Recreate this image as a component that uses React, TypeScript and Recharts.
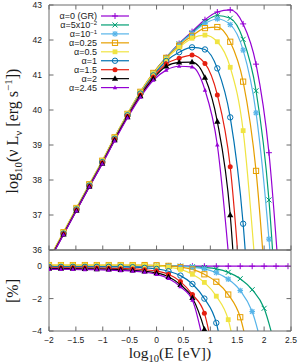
import React from 'react';
import { LineChart, Line, XAxis, YAxis, Legend } from 'recharts';

// ---------- data ----------
const topLogE = [-1.97, -1.73, -1.49, -1.25, -1.01, -0.78, -0.54, -0.3, -0.06, 0.18, 0.42, 0.66, 0.9, 1.13, 1.37, 1.61, 1.85, 2.09, 2.33];
const diffLogE = [-2.0, -1.778, -1.556, -1.333, -1.111, -0.889, -0.667, -0.444, -0.222, 0, 0.222, 0.444, 0.667, 0.889, 1.111, 1.333, 1.556, 1.778, 2.0, 2.222, 2.444];

const alphaBase = ['α=0 (GR)', 'α=5x10', 'α=10', 'α=0.25', 'α=0.5', 'α=1', 'α=1.5', 'α=2', 'α=2.45'];
const alphaSup = ['', '−2', '−1', '', '', '', '', '', ''];

const lumGR = [35.8, 36.48, 37.17, 37.85, 38.52, 39.2, 39.87, 40.5, 41.05, 41.5, 41.9, 42.24, 42.58, 42.8, 42.86, 42.46, 41.31, 38.78, 34.0];
const lumA005 = [35.81, 36.49, 37.18, 37.86, 38.53, 39.21, 39.88, 40.51, 41.05, 41.5, 41.89, 42.21, 42.52, 42.7, 42.62, 42.02, 40.55, 37.43, 31.5];
const lumA01 = [35.81, 36.49, 37.18, 37.86, 38.53, 39.21, 39.88, 40.51, 41.05, 41.49, 41.88, 42.19, 42.47, 42.6, 42.44, 41.71, 39.92, 36.31, 31.0];
const lumA025 = [35.83, 36.51, 37.2, 37.88, 38.55, 39.22, 39.89, 40.52, 41.06, 41.49, 41.84, 42.12, 42.34, 42.37, 41.95, 40.81, 38.26, 33.5, null];
const lumA05 = [35.83, 36.51, 37.2, 37.88, 38.55, 39.22, 39.89, 40.51, 41.04, 41.46, 41.79, 42.05, 42.14, 41.95, 41.22, 39.41, 35.2, null, null];
const lumA1 = [35.79, 36.47, 37.16, 37.84, 38.51, 39.18, 39.85, 40.47, 40.99, 41.4, 41.65, 41.79, 41.73, 41.19, 39.79, 36.75, 31.0, null, null];
const lumA15 = [35.78, 36.46, 37.14, 37.82, 38.49, 39.16, 39.82, 40.43, 40.94, 41.32, 41.48, 41.57, 41.33, 40.43, 38.38, 33.8, null, null, null];
const lumA2 = [35.77, 36.45, 37.13, 37.81, 38.47, 39.14, 39.8, 40.4, 40.9, 41.25, 41.36, 41.37, 40.93, 39.67, 37.0, 31.0, null, null, null];
const lumA245 = [35.76, 36.44, 37.12, 37.8, 38.46, 39.12, 39.78, 40.37, 40.85, 41.14, 41.25, 41.23, 40.57, 39.0, 35.3, null, null, null, null];

const diffGR = [0, 0, 0, 0, 0, 0, 0, 0, 0, 0, 0, 0, 0, 0, 0, 0, 0, 0, 0, 0, 0];
const diffA005 = [0.02, 0.02, 0.02, 0.02, 0.02, 0.02, 0.02, 0.02, 0.02, 0.02, 0.01, 0.0, -0.03, -0.08, -0.17, -0.38, -0.77, -1.45, -2.6, -5.2, null];
const diffA01 = [0.03, 0.03, 0.03, 0.03, 0.03, 0.03, 0.03, 0.03, 0.03, 0.03, 0.03, 0.0, -0.06, -0.17, -0.4, -0.8, -1.5, -2.8, -5.5, null, null];
const diffA025 = [0.07, 0.07, 0.07, 0.07, 0.07, 0.07, 0.07, 0.07, 0.07, 0.06, 0.02, -0.06, -0.2, -0.5, -0.96, -1.75, -3.15, -6.5, null, null, null];
const diffA05 = [0.07, 0.07, 0.07, 0.07, 0.07, 0.07, 0.07, 0.07, 0.05, 0.02, -0.06, -0.2, -0.5, -1.0, -1.85, -3.3, -7.0, null, null, null, null];
const diffA1 = [-0.04, -0.04, -0.04, -0.04, -0.04, -0.04, -0.04, -0.06, -0.1, -0.17, -0.31, -0.58, -1.1, -2.0, -3.5, -7.5, null, null, null, null, null];
const diffA15 = [-0.1, -0.1, -0.1, -0.1, -0.11, -0.13, -0.15, -0.17, -0.22, -0.3, -0.5, -0.95, -1.75, -2.9, -6.5, null, null, null, null, null, null];
const diffA2 = [-0.15, -0.15, -0.15, -0.16, -0.17, -0.19, -0.22, -0.25, -0.31, -0.42, -0.65, -1.15, -1.95, -3.9, -7.0, null, null, null, null, null, null];
const diffA245 = [-0.2, -0.2, -0.2, -0.21, -0.22, -0.24, -0.27, -0.3, -0.37, -0.5, -0.76, -1.27, -2.1, -5.0, null, null, null, null, null, null, null];

const xTicks = [-2, -1.5, -1, -0.5, 0, 0.5, 1, 1.5, 2, 2.5];
const lumTicks = [36, 37, 38, 39, 40, 41, 42, 43];
const diffTicks = [-4, -2, 0];

// ---------- styles ----------
const lumSeries = [lumGR, lumA005, lumA01, lumA025, lumA05, lumA1, lumA15, lumA2, lumA245];
const diffSeries = [diffGR, diffA005, diffA01, diffA025, diffA05, diffA1, diffA15, diffA2, diffA245];
const seriesColors = ['#9400d3', '#009e73', '#56b4e9', '#e69f00', '#f0e442', '#0072b2', '#e51e10', '#000000', '#9400d3'];
const seriesShapes = ['plus', 'cross', 'star', 'osquare', 'fsquare', 'ocircle', 'fcircle', 'ftri', 'stri'];

const AXIS = '#6a6a6a';
const TXT = '#1a1a1a';
const SANS = '"Liberation Sans", Arial, Helvetica, sans-serif';
const SERIF = '"Liberation Serif", "Times New Roman", serif';

const fmt = (v: number) => (v < 0 ? '−' + String(-v) : String(v));

const Marker = ({ shape, cx, cy, color }: { shape: string; cx: number; cy: number; color: string }) => {
  const sw = 1;
  switch (shape) {
    case 'plus':
      return (
        <g>
          <line x1={cx - 3} x2={cx + 3} y1={cy} y2={cy} stroke={color} strokeWidth={sw} />
          <line x1={cx} x2={cx} y1={cy - 3} y2={cy + 3} stroke={color} strokeWidth={sw} />
        </g>
      );
    case 'cross':
      return (
        <g>
          <line x1={cx - 2.5} x2={cx + 2.5} y1={cy - 2.5} y2={cy + 2.5} stroke={color} strokeWidth={sw} />
          <line x1={cx - 2.5} x2={cx + 2.5} y1={cy + 2.5} y2={cy - 2.5} stroke={color} strokeWidth={sw} />
        </g>
      );
    case 'star':
      return (
        <g>
          <line x1={cx - 2.8} x2={cx + 2.8} y1={cy} y2={cy} stroke={color} strokeWidth={1.2} />
          <line x1={cx} x2={cx} y1={cy - 2.8} y2={cy + 2.8} stroke={color} strokeWidth={1.2} />
          <line x1={cx - 2.2} x2={cx + 2.2} y1={cy - 2.2} y2={cy + 2.2} stroke={color} strokeWidth={1.2} />
          <line x1={cx - 2.2} x2={cx + 2.2} y1={cy + 2.2} y2={cy - 2.2} stroke={color} strokeWidth={1.2} />
        </g>
      );
    case 'osquare':
      return <rect x={cx - 2.6} y={cy - 2.6} width={5.2} height={5.2} fill="none" stroke={color} strokeWidth={sw} />;
    case 'fsquare':
      return <rect x={cx - 2.4} y={cy - 2.4} width={4.8} height={4.8} fill={color} stroke="none" />;
    case 'ocircle':
      return <circle cx={cx} cy={cy} r={2.7} fill="none" stroke={color} strokeWidth={sw} />;
    case 'fcircle':
      return <circle cx={cx} cy={cy} r={2.5} fill={color} stroke="none" />;
    case 'ftri':
      return <polygon points={`${cx},${cy - 3.3} ${cx - 3.1},${cy + 2.2} ${cx + 3.1},${cy + 2.2}`} fill={color} />;
    case 'stri':
    default:
      return <polygon points={`${cx},${cy - 2.4} ${cx - 2.2},${cy + 1.6} ${cx + 2.2},${cy + 1.6}`} fill={color} />;
  }
};

const dotFor = (shape: string, color: string, minV: number, maxV: number) => (p: any) => {
  const v = p && p.payload ? p.payload.y : null;
  const k = `d-${p.index}`;
  if (v == null || v < minV || v > maxV || p.cx == null || p.cy == null) return <g key={k} />;
  return (
    <g key={k}>
      <Marker shape={shape} cx={p.cx} cy={p.cy} color={color} />
    </g>
  );
};

const toPoints = (xs: number[], ys: (number | null)[]) =>
  xs.map((x, i) => ({ x, y: ys[i] })).filter((d) => d.y !== null && d.y !== undefined);

// ---------- ticks ----------
const xTickFn = (dir: number, showLabel: boolean) => (p: any) => (
  <g key={`xt-${p.index}`}>
    <line x1={p.x} x2={p.x} y1={p.y} y2={p.y + dir * 4.5} stroke={AXIS} strokeWidth={1} />
    {showLabel && (
      <text x={p.x} y={p.y + 11.5} textAnchor="middle" fontSize={8.5} fontFamily={SANS} fill={TXT}>
        {fmt(p.payload.value)}
      </text>
    )}
  </g>
);

const yTickFn = (dir: number, showLabel: boolean) => (p: any) => (
  <g key={`yt-${p.index}`}>
    <line x1={p.x} x2={p.x + dir * 4.5} y1={p.y} y2={p.y} stroke={AXIS} strokeWidth={1} />
    {showLabel && (
      <text x={p.x - 7} y={p.y + 3} textAnchor="end" fontSize={8.5} fontFamily={SANS} fill={TXT}>
        {fmt(p.payload.value)}
      </text>
    )}
  </g>
);

// ---------- titles ----------
const topYTitle = () => (
  <text transform="translate(17.5,131) rotate(-90)" textAnchor="middle" fontSize={16} fontFamily={SERIF} fill={TXT}>
    log
    <tspan dy={4} fontSize={11}>10</tspan>
    <tspan dy={-4}>(ν L</tspan>
    <tspan dy={4} fontSize={11}>ν</tspan>
    <tspan dy={-4}> [erg s</tspan>
    <tspan dy={-6} fontSize={11}>−1</tspan>
    <tspan dy={6}>])</tspan>
  </text>
);

const bottomYTitle = () => (
  <text transform="translate(17.5,51) rotate(-90)" textAnchor="middle" fontSize={16} fontFamily={SERIF} fill={TXT}>
    [%]
  </text>
);

const xTitle = () => (
  <text x={170} y={118} textAnchor="middle" fontSize={15.5} fontFamily={SERIF} fill={TXT}>
    log
    <tspan dy={3.5} fontSize={10.5}>10</tspan>
    <tspan dy={-3.5}>(E [eV])</tspan>
  </text>
);

const LegendBox = () => (
  <svg width={140} height={96} style={{ display: 'block' }}>
    {alphaBase.map((lab, i) => {
      const y = 16 + i * 8.95;
      return (
        <g key={i}>
          <text x={97} y={y + 3} textAnchor="end" fontSize={9} fontFamily={SANS} fill={TXT}>
            {lab}
            {alphaSup[i] ? (
              <tspan dy={-3} fontSize={6}>
                {alphaSup[i]}
              </tspan>
            ) : null}
          </text>
          <line x1={101} x2={129} y1={y} y2={y} stroke={seriesColors[i]} strokeWidth={1.2} />
          <Marker shape={seriesShapes[i]} cx={115} cy={y} color={seriesColors[i]} />
        </g>
      );
    })}
  </svg>
);

export default function App() {
  return (
    <div style={{ position: 'absolute', left: 0, top: 0, width: 299, height: 363, background: '#fff' }}>
      <div style={{ position: 'absolute', left: 0, top: 0 }}>
        <LineChart width={299} height={258} margin={{ top: 4, right: 0, bottom: 0, left: 0 }}>
          <XAxis xAxisId="b" dataKey="x" type="number" domain={[-2, 2.5]} ticks={xTicks} interval={0} allowDataOverflow
            orientation="bottom" height={8} tickSize={0} tickMargin={0} tickLine={false}
            axisLine={{ stroke: AXIS, strokeWidth: 1 }} tick={xTickFn(-1, false)} />
          <XAxis xAxisId="t" dataKey="x" type="number" domain={[-2, 2.5]} ticks={xTicks} interval={0} allowDataOverflow
            orientation="top" height={1} tickSize={0} tickMargin={0} tickLine={false}
            axisLine={{ stroke: AXIS, strokeWidth: 1 }} tick={xTickFn(1, false)} />
          <YAxis yAxisId="l" type="number" domain={[36, 43]} ticks={lumTicks} interval={0} allowDataOverflow
            width={49} tickSize={0} tickMargin={0} tickLine={false}
            axisLine={{ stroke: AXIS, strokeWidth: 1 }} tick={yTickFn(1, true)} label={{ content: topYTitle }} />
          <YAxis yAxisId="r" orientation="right" type="number" domain={[36, 43]} ticks={lumTicks} interval={0} allowDataOverflow
            width={8} tickSize={0} tickMargin={0} tickLine={false}
            axisLine={{ stroke: AXIS, strokeWidth: 1 }} tick={yTickFn(-1, false)} />
          {lumSeries.map((s, i) => (
            <Line key={`lum-${i}`} xAxisId="b" yAxisId="l" data={toPoints(topLogE, s)} dataKey="y" type="monotone"
              stroke={seriesColors[i]} strokeWidth={1.2} isAnimationActive={false} activeDot={false}
              dot={dotFor(seriesShapes[i], seriesColors[i], 36, 43)} />
          ))}
          <Legend layout="vertical" align="center" verticalAlign="middle" content={() => <LegendBox />}
            wrapperStyle={{ left: 0, top: 0, width: 140, height: 96 }} />
        </LineChart>
      </div>
      <div style={{ position: 'absolute', left: 0, top: 240 }}>
        <LineChart width={299} height={123} margin={{ top: 9, right: 0, bottom: 0, left: 0 }}>
          <XAxis xAxisId="b" dataKey="x" type="number" domain={[-2, 2.5]} ticks={xTicks} interval={0} allowDataOverflow
            orientation="bottom" height={32} tickSize={0} tickMargin={0} tickLine={false}
            axisLine={{ stroke: AXIS, strokeWidth: 1 }} tick={xTickFn(-1, true)} label={{ content: xTitle }} />
          <XAxis xAxisId="t" dataKey="x" type="number" domain={[-2, 2.5]} ticks={xTicks} interval={0} allowDataOverflow
            orientation="top" height={1} tickSize={0} tickMargin={0} tickLine={false}
            axisLine={{ stroke: AXIS, strokeWidth: 1 }} tick={false} />
          <YAxis yAxisId="l" type="number" domain={[-4, 1]} ticks={diffTicks} interval={0} allowDataOverflow
            width={49} tickSize={0} tickMargin={0} tickLine={false}
            axisLine={{ stroke: AXIS, strokeWidth: 1 }} tick={yTickFn(1, true)} label={{ content: bottomYTitle }} />
          <YAxis yAxisId="r" orientation="right" type="number" domain={[-4, 1]} ticks={diffTicks} interval={0} allowDataOverflow
            width={8} tickSize={0} tickMargin={0} tickLine={false}
            axisLine={{ stroke: AXIS, strokeWidth: 1 }} tick={yTickFn(-1, false)} />
          {diffSeries.map((s, i) => (
            <Line key={`diff-${i}`} xAxisId="b" yAxisId="l" data={toPoints(diffLogE, s)} dataKey="y" type="monotone"
              stroke={seriesColors[i]} strokeWidth={1.2} isAnimationActive={false} activeDot={false}
              dot={dotFor(seriesShapes[i], seriesColors[i], -4, 1)} />
          ))}
        </LineChart>
      </div>
    </div>
  );
}
